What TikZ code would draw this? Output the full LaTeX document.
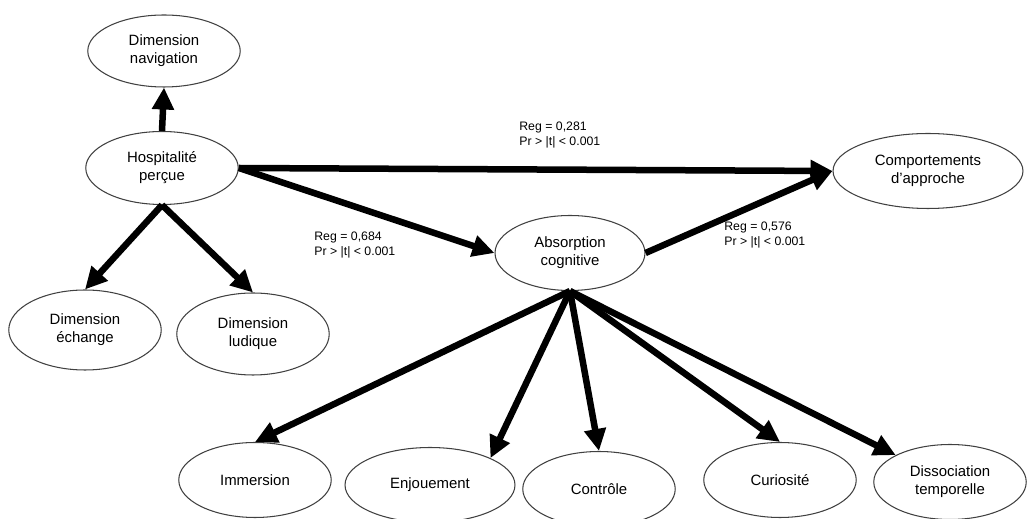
\documentclass[tikz,border=0pt]{standalone}
\usepackage{fontspec}
\setmainfont{Liberation Sans}
\usetikzlibrary{shapes.geometric,arrows.meta}
\begin{document}
\begin{tikzpicture}[x=0.02cm,y=-0.02cm,
  ell/.style={ellipse,draw=black!75,line width=0.6pt,inner sep=0pt,align=center,
    minimum width=3.05cm,minimum height=1.5cm,font=\fontsize{8.5}{10.2}\selectfont},
  arr/.style={line width=3.7pt,-{Triangle[length=0.44cm,width=0.42cm]}},
  lab/.style={anchor=north west,inner sep=0pt,align=left,font=\fontsize{7}{8.4}\selectfont}]
\useasboundingbox (0,0) rectangle (1028,519);
\clip (0,0) rectangle (1028,519);
% ellipses
\node[ell,minimum height=1.44cm] (nav) at (164,51) {Dimension\\navigation};
\node[ell,minimum height=1.46cm] (hosp) at (162,168) {Hospitalit\'e\\per\c{c}ue};
\node[ell,minimum height=1.6cm] (ech) at (85,330) {Dimension\\\'echange};
\node[ell,minimum height=1.64cm] (lud) at (253,334) {Dimension\\ludique};
\node[ell,minimum width=3.0cm] (abs) at (570,253) {Absorption\\cognitive};
\node[ell,minimum width=3.8cm] (comp) at (928,171) {Comportements\\d'approche};
\node[ell] (imm) at (255,480) {Immersion};
\node[ell,minimum width=3.4cm] (enj) at (430,485) {Enjouement};
\node[ell] (ctrl) at (599,489) {Contr\^ole};
\node[ell] (cur) at (780,480) {Curiosit\'e};
\node[ell] (diss) at (950,482) {Dissociation\\temporelle};
% arrows
\draw[arr] (hosp.north) -- (nav.south);
\draw[arr] (hosp.south) -- (ech.north);
\draw[arr] (hosp.south) -- (lud.north);
\draw[arr] (hosp.east) -- (comp.west);
\draw[arr] (hosp.east) -- (abs.west);
\draw[arr] (abs.east) -- (comp.west);
\draw[arr] (abs.south) -- (imm.north);
\draw[arr] (abs.south) -- (enj.north east);
\draw[arr] (abs.south) -- (ctrl.north);
\draw[arr] (abs.south) -- (cur.north);
\draw[arr] (abs.south) -- (diss.north west);
% coefficients
\node[lab] (reg1) at (519,122) {Reg = 0,281\\Pr > |t| < 0.001};
\node[lab] (reg2) at (314,232) {Reg = 0,684\\Pr > |t| < 0.001};
\node[lab] (reg3) at (724,222) {Reg = 0,576\\Pr > |t| < 0.001};
\end{tikzpicture}
\end{document}
